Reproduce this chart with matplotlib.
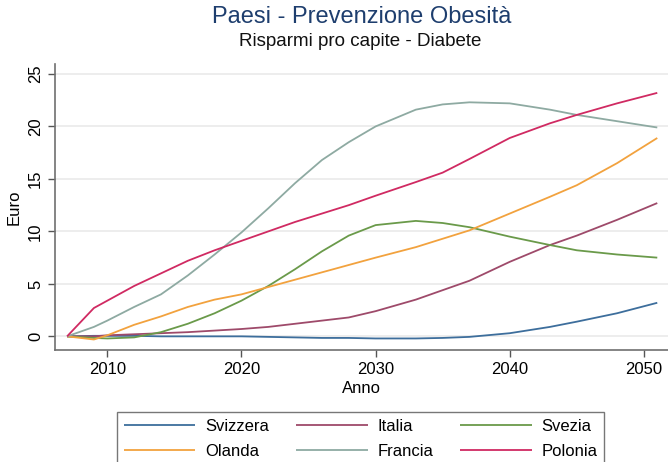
import matplotlib
matplotlib.use("Agg")
import matplotlib.pyplot as plt

plt.rcParams['font.family'] = ['Liberation Sans', 'DejaVu Sans']

years = [2007, 2009, 2010, 2012, 2014, 2016, 2018, 2020, 2022, 2024, 2026,
         2028, 2030, 2033, 2035, 2037, 2040, 2043, 2045, 2048, 2051]

svizzera = [0, 0.05, 0.05, 0.05, 0.0, 0.0, 0.0, 0.0, -0.05, -0.1, -0.15,
            -0.15, -0.2, -0.2, -0.15, -0.05, 0.3, 0.9, 1.4, 2.2, 3.2]
italia = [0, 0.0, 0.1, 0.2, 0.3, 0.4, 0.55, 0.7, 0.9, 1.2, 1.5,
          1.8, 2.4, 3.5, 4.4, 5.3, 7.1, 8.7, 9.6, 11.1, 12.7]
svezia = [0, -0.15, -0.2, -0.1, 0.4, 1.2, 2.2, 3.4, 4.8, 6.4, 8.1,
          9.6, 10.6, 11.0, 10.8, 10.4, 9.5, 8.7, 8.2, 7.8, 7.5]
olanda = [0, -0.3, 0.1, 1.1, 1.9, 2.8, 3.5, 4.0, 4.7, 5.4, 6.1,
          6.8, 7.5, 8.5, 9.3, 10.1, 11.7, 13.3, 14.4, 16.5, 18.9]
francia = [0, 0.9, 1.5, 2.8, 4.0, 5.8, 7.8, 9.9, 12.2, 14.6, 16.8,
           18.5, 20.0, 21.6, 22.1, 22.3, 22.2, 21.6, 21.1, 20.5, 19.9]
polonia = [0, 2.7, 3.4, 4.8, 6.0, 7.2, 8.2, 9.1, 10.0, 10.9, 11.7,
           12.5, 13.4, 14.7, 15.6, 16.9, 18.9, 20.3, 21.1, 22.2, 23.2]

series = [
    ("Svizzera", svizzera, "#3d6e9c"),
    ("Italia", italia, "#9e4a6a"),
    ("Svezia", svezia, "#6a9a4a"),
    ("Olanda", olanda, "#f2a23e"),
    ("Francia", francia, "#8eaaa2"),
    ("Polonia", polonia, "#d02a62"),
]

xticks = [2010, 2020, 2030, 2040, 2050]
yticks = [0, 5, 10, 15, 20, 25]

fig = plt.figure(figsize=(6.68, 4.62), dpi=100)
ax = fig.add_axes([55/668, 1 - 350/462, 1 - 55/668, (350 - 64)/462])

handles = {}
for name, vals, col in series:
    h, = ax.plot(years, vals, color=col, lw=1.3, solid_capstyle='butt')
    handles[name] = h

ax.set_xlim(2006.1, 2051.8)
ax.set_ylim(-1.3, 25.95)
ax.set_xticks(xticks)
ax.set_yticks(yticks)
ax.set_yticklabels([str(t) for t in yticks], rotation=90, va='center')
ax.tick_params(axis='both', labelsize=12, color='#555555', length=5, width=1)
ax.grid(axis='y', color='#eaeaea', lw=1.2)
ax.set_axisbelow(True)
for s in ['top', 'right']:
    ax.spines[s].set_visible(False)
for s in ['left', 'bottom']:
    ax.spines[s].set_color('#707070')
    ax.spines[s].set_linewidth(1.2)

ax.set_xlabel("Anno", fontsize=12, labelpad=3)
ax.set_ylabel("Euro", fontsize=12, labelpad=5)

fig.text(362/668, 1 - 17/462, "Paesi - Prevenzione Obesità", ha='center', va='center',
         fontsize=17, color='#1e3e6e')
fig.text(360/668, 1 - 41/462, "Risparmi pro capite - Diabete", ha='center', va='center',
         fontsize=13.5, color='#111111')

order = ["Svizzera", "Olanda", "Italia", "Francia", "Svezia", "Polonia"]
leg = fig.legend([handles[n] for n in order], order, ncol=3,
                 loc='upper left', bbox_to_anchor=(117/668, 1 - 412/462),
                 borderaxespad=0,
                 fontsize=12, frameon=True, fancybox=False, edgecolor='#555555',
                 handlelength=4.3, handletextpad=0.6, columnspacing=1.6,
                 borderpad=0.4, labelspacing=0.6)
leg.get_frame().set_linewidth(1.0)

fig.savefig("out.png", dpi=100)
